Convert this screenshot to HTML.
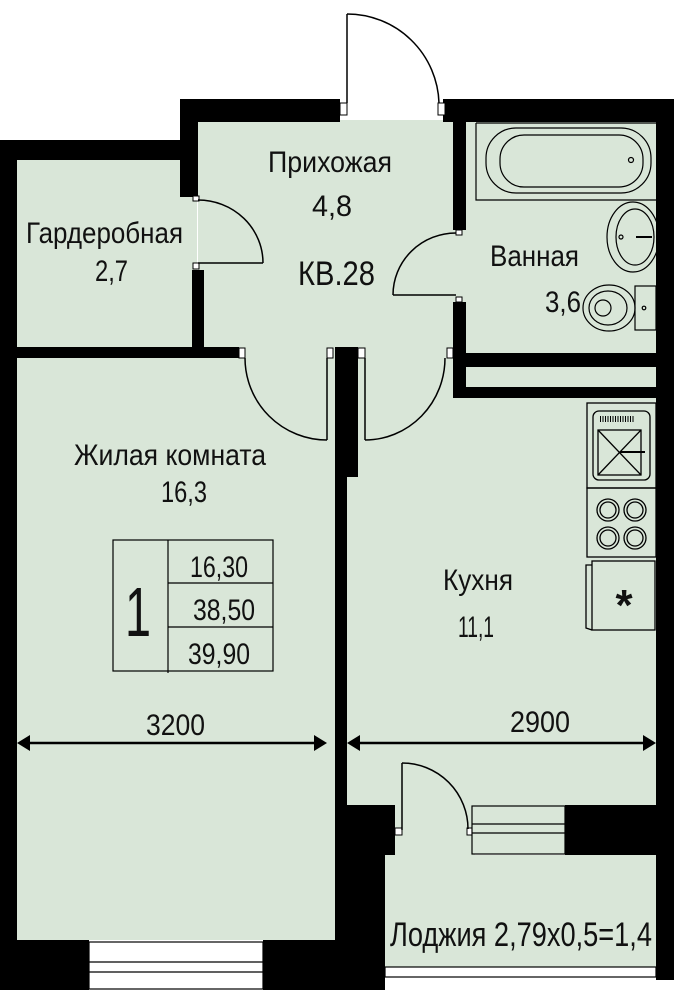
<!DOCTYPE html>
<html><head><meta charset="utf-8"><style>
html,body{margin:0;padding:0;background:#fff}
svg{display:block}
text{font-family:"Liberation Sans",sans-serif;fill:#111}
</style></head><body>
<svg width="674" height="1000" viewBox="0 0 674 1000" xmlns="http://www.w3.org/2000/svg">
<g fill="#d9e6d8">
<rect x="17" y="160" width="180" height="190"/>
<rect x="198" y="120" width="258" height="240"/>
<rect x="456" y="120" width="200" height="235"/>
<rect x="466" y="366" width="190" height="22"/>
<rect x="17" y="355" width="318" height="585"/>
<rect x="347" y="398" width="309" height="408"/>
<rect x="385" y="805" width="90" height="60"/>
<rect x="385" y="855" width="271" height="113"/>
<rect x="198" y="340" width="260" height="100"/>
</g>
<g fill="#000">
<rect x="180" y="99" width="160" height="23"/>
<rect x="180" y="99" width="18" height="98"/>
<rect x="0" y="140" width="198" height="20"/>
<rect x="0" y="140" width="17" height="850"/>
<rect x="443" y="99" width="231" height="23"/>
<rect x="656" y="99" width="18" height="881"/>
<rect x="453" y="122" width="13" height="108"/>
<rect x="453" y="302" width="13" height="96"/>
<rect x="453" y="353" width="203" height="14"/>
<rect x="453" y="387" width="203" height="11"/>
<rect x="192" y="270" width="12" height="80"/>
<rect x="0" y="347" width="239" height="11"/>
<rect x="335" y="347" width="23" height="130"/>
<rect x="335" y="347" width="12" height="643"/>
<rect x="0" y="940" width="89" height="50"/>
<rect x="263" y="940" width="122" height="50"/>
<rect x="347" y="805" width="48" height="50"/>
<rect x="347" y="805" width="38" height="185"/>
<rect x="565" y="805" width="91" height="50"/>
</g>
<g fill="#fff" stroke="#000" stroke-width="1">
<rect x="340" y="103" width="7" height="12"/>
<rect x="438" y="103" width="7" height="12"/>
<rect x="193" y="196" width="6" height="5"/>
<rect x="193" y="263" width="6" height="6"/>
<rect x="456" y="230" width="6" height="5"/>
<rect x="456" y="297" width="6" height="5"/>
<rect x="239" y="348" width="6" height="10"/>
<rect x="327" y="348" width="6" height="10"/>
<rect x="358" y="348" width="7" height="10"/>
<rect x="447" y="348" width="6" height="10"/>
<rect x="395" y="828" width="7" height="7"/>
<rect x="467" y="828" width="7" height="7"/>
</g>
<g fill="#fff" stroke="#000" stroke-width="1.2">
<rect x="89" y="942" width="174" height="47"/>
<line x1="89" y1="962" x2="263" y2="962"/><line x1="89" y1="972" x2="263" y2="972"/>
<rect x="472" y="806" width="93" height="48" fill="#d9e6d8"/>
<line x1="472" y1="824" x2="565" y2="824"/><line x1="472" y1="833" x2="565" y2="833"/>
<rect x="385" y="967" width="271" height="10"/>
</g>
<g fill="none" stroke="#000" stroke-width="1.5">
<line x1="347" y1="14" x2="347" y2="103"/>
<path d="M347 14 A92 92 0 0 1 439 103"/>
<line x1="198" y1="263" x2="263" y2="263"/>
<path d="M198 200 A65 63 0 0 1 263 263"/>
<line x1="393" y1="295" x2="456" y2="295"/>
<path d="M393 295 A63 62 0 0 1 456 233"/>
<line x1="327" y1="358" x2="327" y2="440"/>
<path d="M245 358 A82 82 0 0 0 327 440"/>
<line x1="365" y1="358" x2="365" y2="440"/>
<path d="M365 440 A80 82 0 0 0 445 358"/>
<line x1="402" y1="763" x2="402" y2="830"/>
<path d="M402 763 A66 66 0 0 1 468 829"/>
</g>
<g fill="none" stroke="#000" stroke-width="1.2">
<path d="M476 123 L656 123 M476 123 L476 200 L656 200"/>
<rect x="486" y="128" width="165" height="65" rx="30"/>
<rect x="500" y="135" width="143" height="52" rx="24"/>
<circle cx="631" cy="160" r="2.5"/>
<ellipse cx="633" cy="237" rx="26" ry="35"/>
<ellipse cx="635" cy="237" rx="19" ry="28"/>
<circle cx="621" cy="237" r="2"/>
<line x1="636" y1="237" x2="652" y2="237" stroke-width="2"/>
<rect x="635" y="286" width="21" height="44"/>
<circle cx="644" cy="308" r="1.8"/>
<ellipse cx="609" cy="308" rx="26" ry="23"/>
<ellipse cx="608" cy="308" rx="19" ry="17"/>
<circle cx="603" cy="308" r="8"/>
</g>
<g fill="none" stroke="#000" stroke-width="1.3">
<rect x="587" y="403" width="69" height="85"/>
<rect x="593" y="411" width="57" height="69" rx="6"/>
<rect x="598" y="430" width="43" height="45"/>
<line x1="598" y1="430" x2="641" y2="475"/><line x1="641" y1="430" x2="598" y2="475"/>
<line x1="620" y1="452" x2="645" y2="452" stroke-width="2"/>
<line x1="600" y1="419" x2="635" y2="419" stroke-dasharray="1 1.5" stroke-width="6"/>
<rect x="587" y="488" width="69" height="69"/>
<circle cx="608" cy="510" r="11"/><circle cx="608" cy="510" r="8"/>
<circle cx="635" cy="510" r="11"/><circle cx="635" cy="510" r="8"/>
<circle cx="608" cy="538" r="11"/><circle cx="608" cy="538" r="8"/>
<circle cx="635" cy="538" r="11"/><circle cx="635" cy="538" r="8"/>
<rect x="592" y="561" width="63" height="69"/>
<path d="M592 565 L586 565 L586 628 L592 630"/>
</g>
<text x="624" y="620" font-size="44" text-anchor="middle" font-weight="bold">*</text>
<g fill="none" stroke="#000" stroke-width="1.2">
<rect x="113" y="540" width="160" height="131"/>
<line x1="168" y1="540" x2="168" y2="673"/>
<line x1="168" y1="583" x2="273" y2="583"/>
<line x1="168" y1="627" x2="273" y2="627"/>
</g>
<g stroke="#000" stroke-width="2.5">
<line x1="22" y1="743" x2="322" y2="743"/>
<line x1="352" y1="743" x2="651" y2="743"/>
</g>
<g fill="#000">
<polygon points="17,743 30,735 30,751"/><polygon points="327,743 314,735 314,751"/>
<polygon points="347,743 360,735 360,751"/><polygon points="656,743 643,735 643,751"/>
</g>
<g font-size="30">
<text x="268" y="172" textLength="124" lengthAdjust="spacingAndGlyphs">Прихожая</text>
<text x="312" y="216" textLength="40" lengthAdjust="spacingAndGlyphs">4,8</text>
<text x="298" y="285" font-size="34" textLength="77" lengthAdjust="spacingAndGlyphs">КВ.28</text>
<text x="26" y="243" textLength="157" lengthAdjust="spacingAndGlyphs">Гардеробная</text>
<text x="95" y="281" textLength="33" lengthAdjust="spacingAndGlyphs">2,7</text>
<text x="490" y="266" textLength="89" lengthAdjust="spacingAndGlyphs">Ванная</text>
<text x="545" y="312" textLength="36" lengthAdjust="spacingAndGlyphs">3,6</text>
<text x="74" y="465" textLength="192" lengthAdjust="spacingAndGlyphs">Жилая комната</text>
<text x="161" y="502" textLength="46" lengthAdjust="spacingAndGlyphs">16,3</text>
<text x="443" y="590" textLength="70" lengthAdjust="spacingAndGlyphs">Кухня</text>
<text x="458" y="637" textLength="36" lengthAdjust="spacingAndGlyphs">11,1</text>
<text x="190" y="577" textLength="58" lengthAdjust="spacingAndGlyphs">16,30</text>
<text x="193" y="620" textLength="62" lengthAdjust="spacingAndGlyphs">38,50</text>
<text x="188" y="664" textLength="62" lengthAdjust="spacingAndGlyphs">39,90</text>
<text x="125" y="636" font-size="70" textLength="26" lengthAdjust="spacingAndGlyphs">1</text>
<text x="146" y="735" textLength="59" lengthAdjust="spacingAndGlyphs">3200</text>
<text x="510" y="732" textLength="60" lengthAdjust="spacingAndGlyphs">2900</text>
<text x="390" y="946" font-size="34" textLength="262" lengthAdjust="spacingAndGlyphs">Лоджия 2,79x0,5=1,4</text>
</g>
</svg>
</body></html>
